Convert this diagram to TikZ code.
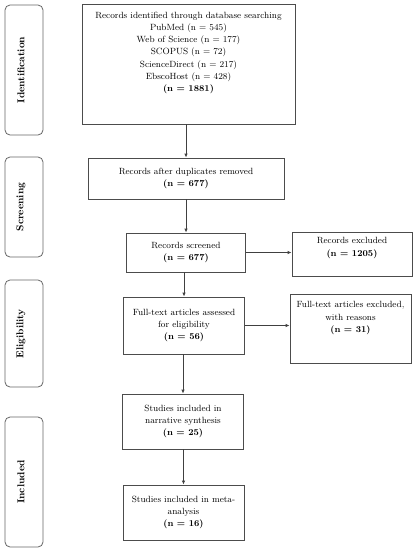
\documentclass[tikz,border=0pt]{standalone}
\usetikzlibrary{arrows.meta}
\begin{document}
\begin{tikzpicture}[x=1pt,y=-1pt,
  box/.style={draw=black!70,line width=0.8pt,rectangle,inner sep=0pt,align=center,
    font=\fontsize{9}{12.3}\selectfont},
  txt/.style={inner sep=0pt,align=center,font=\fontsize{9}{12.3}\selectfont},
  side/.style={draw=black!60,line width=0.8pt,rounded corners=5pt,rectangle,inner sep=0pt},
  sidetxt/.style={rotate=90,inner sep=0pt,font=\fontsize{10}{12}\selectfont\bfseries},
  arr/.style={draw=black!75,line width=0.8pt,-{Latex[length=4pt,width=3.4pt]}}]
\useasboundingbox[fill=white] (0,0) rectangle (416,550);

% side phase boxes
\node[side,minimum width=38pt,minimum height=130pt] (sid) at (24,70) {};
\node[sidetxt] (sidt) at (21,70) {Identification};
\node[side,minimum width=38pt,minimum height=100pt] (sscr) at (24,207) {};
\node[sidetxt] (sscrt) at (21,207) {Screening};
\node[side,minimum width=38pt,minimum height=107pt] (selg) at (24,333.5) {};
\node[sidetxt] (selgt) at (21,333.5) {Eligibility};
\node[side,minimum width=38pt,minimum height=130pt] (sinc) at (24,482) {};
\node[sidetxt] (sinct) at (21,482) {Included};

% main boxes
\node[box,minimum width=213pt,minimum height=120pt] (b1) at (188.5,64) {};
\node[txt,anchor=north] (b1t) at (188.5,11.5) {Records identified through database searching\\
PubMed (n = 545)\\ Web of Science (n = 177)\\ SCOPUS (n = 72)\\ ScienceDirect (n = 217)\\
EbscoHost (n = 428)\\ \textbf{(n = 1881)}};

\node[box,minimum width=196pt,minimum height=41pt] (b2) at (186,178.5)
  {Records after duplicates removed\\ \textbf{(n = 677)}};

\node[box,minimum width=119pt,minimum height=39pt] (b3) at (186,252.5)
  {Records screened\\ \textbf{(n = 677)}};

\node[box,minimum width=120pt,minimum height=44pt] (e1) at (352,254)
  {Records excluded\\ \textbf{(n = 1205)}\\[2pt]};

\node[box,minimum width=121pt,minimum height=57pt] (b4) at (184,325.5)
  {Full-text articles assessed\\ for eligibility\\ \textbf{(n = 56)}};

\node[box,minimum width=121pt,minimum height=69pt] (e2) at (350.5,328.5) {};
\node[txt,anchor=north] (e2t) at (350.5,301.5) {Full-text articles excluded,\\ with reasons\\ \textbf{(n = 31)}};

\node[box,minimum width=121pt,minimum height=55pt] (b5) at (183,421.5)
  {Studies included in\\ narrative synthesis\\ \textbf{(n = 25)}};

\node[box,minimum width=121pt,minimum height=55pt] (b6) at (183.5,512.5)
  {Studies included in meta-\\ analysis\\ \textbf{(n = 16)}};

% connectors
\draw[arr] (b1.south -| b2.north) -- (b2.north);
\draw[arr] (b2.south -| b3.north) -- (b3.north);
\draw[arr] (b3.south -| b4.north) -- (b4.north);
\draw[arr] (b4.south -| b5.north) -- (b5.north);
\draw[arr] (b5.south -| b6.north) -- (b6.north);
\draw[arr] (b3.east) -- (e1.west |- b3.east);
\draw[arr] (b4.east) -- (e2.west |- b4.east);
\end{tikzpicture}
\end{document}
